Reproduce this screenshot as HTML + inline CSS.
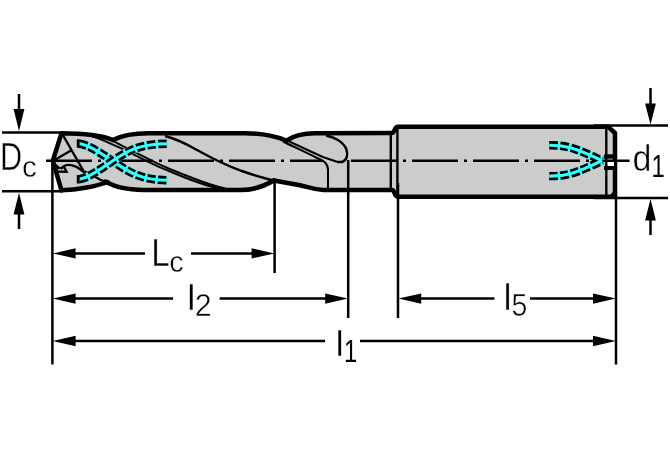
<!DOCTYPE html>
<html>
<head>
<meta charset="utf-8">
<title>Drill dimensions</title>
<style>
html,body{margin:0;padding:0;background:#fff;}
svg{display:block;filter:blur(0.45px);}
text{font-family:"Liberation Sans",sans-serif;fill:#000;}
.o{fill:none;stroke:#000;stroke-width:4.5;stroke-linejoin:round;stroke-linecap:round;}
.t{fill:none;stroke:#000;stroke-width:2.4;stroke-linecap:butt;}
.m{fill:none;stroke:#000;stroke-width:2;stroke-linecap:butt;}
.d{fill:none;stroke:#000;stroke-width:2.5;}
.cw{fill:none;stroke:#3ff;stroke-width:8.6;}
.ck{fill:none;stroke:#000;stroke-width:8.4;stroke-dasharray:8.5 2.5;}
.cc{fill:none;stroke:#3ff;stroke-width:3.1;}
.cb{fill:none;stroke:#000;stroke-width:2.8;}
</style>
</head>
<body>
<svg width="670" height="460" viewBox="0 0 670 460">
<rect width="670" height="460" fill="#fff"/>

<!-- body fill -->
<g id="body">
<path fill="#cccccc" stroke="none" d="M52.5,160.7 L61.5,133.3 C80,133.3 98,134 113,140 C122,135.5 135,133.3 148,133.3 L245,133.3 C262,133.3 275,136 286.3,140.6 C293,136 303,133.2 315,133.2 L393,133 L396,126.7 L608,126.7 L615,133 L615,192.8 L611.5,196.7 L396,196.7 L393,190 L323.5,190 C315,189.5 308,187 300,185.2 L273.8,180.5 C263,187 252,190 241,190 L150,190 C135,190 121,188.8 111,184.2 L109,184.5 C97,187.8 80,190 61.4,190.3 Z"/>

<!-- thick outlines -->
<path class="o" d="M61.5,190.3 L52.8,160.7 L61.5,133.3 C80,133.3 98,134 113,140"/>
<path class="o" d="M113,140 C122,135.5 135,133.3 148,133.3 L245,133.3 C262,133.3 275,136 286.3,140.6"/>
<path class="o" d="M286.3,140.6 C293,136 303,133.2 315,133.2 L392,133 C395,133 394,126.7 398,126.7 L608,126.7 L615,133 L615,192.8 L611.5,196.7 L398,196.7 C394,196.7 395,190 392,190 L323.5,190 C315,189.5 308,187 300,185.2 L273.8,180.5"/>
<path class="o" d="M273.8,180.5 C263,187 252,190 241,190 L150,190 C135,190 121,188.8 111,184.2 L105.5,181.6"/>
<path class="o" stroke-linecap="butt" d="M107.5,182 C97,186 78,190 61.5,190.3"/>
</g>

<!-- inner lines -->
<g id="inner">
<!-- tip -->
<path class="t" d="M62,133.5 L83.5,171"/>
<path class="t" d="M55.5,159.5 L71,150.5"/>
<path fill="#000" d="M52.5,160.7 L61.4,168.6 L58,169.2 L57.8,172.6 L55.6,172.6 Z"/>
<path class="t" stroke-width="2" d="M57.5,171.6 L66.5,171.8 L63.8,166.3 C66,164.3 71,164.4 75.2,166.4 C79,168 82,170.5 85.5,173.5 M63.8,166.3 L60.5,168.8"/>
<path class="t" stroke-width="2.8" d="M84.3,171.3 L92.7,175.5 L99.9,179.5 L106,182"/>
<!-- flute line 1 -->
<path class="t" d="M165,136 C180,140 188,145 197,150 C206,155 220,163 240,170.4 C252,174.5 262,178 273.8,180.5"/>
<!-- double margin lines first -->
<path class="m" d="M113,140.8 L121.9,145.7 L133.9,151.7 L145.8,157.7 L157.8,163.7 L169.7,169 L181.6,173.8 L190,177 C200,181 212,185.5 226,188.8"/>
<path class="m" d="M92,136.3 C98,137.8 104,140.6 110,143.4 L121.9,148.7 L133.9,154.7 L145.8,160.7 L157.8,166.3 L169.7,171.4 L181.6,176.2 L190,179.5 C200,183.3 210,186.5 219,188.5"/>
<!-- double margin lines second -->
<path class="m" d="M286.3,140.2 L299,146 L310.8,151.5 L322.8,157 L337,161.8"/>
<path class="m" d="M283,141.5 C292,146 305,152 316,157.5 C324,161 328,163 328,170 L328,189"/>
<!-- flute runout -->
<path class="t" d="M326,135.5 C334,137 343,141.5 346.3,149 C348.3,155 347,160.5 342,162 L337,162"/>
<!-- neck/shank lines -->
<path class="t" d="M390.8,133 L390.8,190"/>
<path class="t" d="M397.4,127 L397.4,196"/>
<path class="t" d="M606.3,126 L606.3,197"/>
<!-- slot -->
<rect x="604" y="154.3" width="12" height="4.4" fill="#000"/>
<rect x="604" y="166" width="12" height="4" fill="#000"/>
<rect x="607.8" y="162" width="6.2" height="4" fill="#fff"/>
</g>

<!-- centre line -->
<g id="centre">
<path class="t" stroke-dasharray="46 6 3 6" d="M46,160.7 L322,160.7 M351,160.7 L629.6,160.7"/>
</g>

<!-- coolant channels -->
<g id="coolant">
<path class="cw" d="M78.9,143.5 C88,145 97,150.5 112.5,161 C128,171.5 140,180.2 167.8,180.2"/><path class="ck" d="M78.9,143.5 C88,145 97,150.5 112.5,161 C128,171.5 140,180.2 167.8,180.2"/><path class="cc" d="M78.9,143.5 C88,145 97,150.5 112.5,161 C128,171.5 140,180.2 167.8,180.2"/>
<path class="cw" d="M78.9,179.3 C88,177.8 97,171.5 112.5,161 C128,150.5 140,143.7 167.8,143.7"/><path class="ck" d="M78.9,179.3 C88,177.8 97,171.5 112.5,161 C128,150.5 140,143.7 167.8,143.7"/><path class="cc" d="M78.9,179.3 C88,177.8 97,171.5 112.5,161 C128,150.5 140,143.7 167.8,143.7"/>
<path class="cb" d="M78.2,139.3 L78.2,147.7 M78.2,175.1 L78.2,183.5"/>
<path class="cw" d="M549.2,145.3 C565,145 575,147.5 602,160.7"/><path class="cw" d="M549.2,176.1 C565,176.4 575,173.9 602,160.7"/>
<path class="ck" d="M549.2,145.3 C565,145 575,147.5 602,160.7"/><path class="ck" d="M549.2,176.1 C565,176.4 575,173.9 602,160.7"/>
<path class="cc" d="M549.2,145.3 C565,145 575,147.5 602,160.7"/><path class="cc" d="M549.2,176.1 C565,176.4 575,173.9 602,160.7"/>
</g>

<!-- dimension lines -->
<g id="dims">
<!-- extension lines -->
<path class="d" d="M2,132.5 L62,132.5 M2,191.3 L62,191.3 M52.4,160 L52.4,364.5 M274.6,179 L274.6,273 M348.2,160 L348.2,318 M398,183 L398,318 M616,192 L616,364.5 M594,125.6 L668,125.6 M594,198 L668,198"/>
<!-- Dc arrows -->
<path class="d" d="M19,94 L19,112 M19,212 L19,229"/>
<path d="M19,131 L13.6,109 L24.4,109 Z M19,192.7 L13.6,214.5 L24.4,214.5 Z"/>
<!-- d1 arrows -->
<path class="d" d="M650.5,88 L650.5,106 M650.5,218 L650.5,235"/>
<path d="M650.5,124.5 L645.1,103.5 L655.9,103.5 Z M650.5,199 L645.1,220.5 L655.9,220.5 Z"/>
<!-- Lc -->
<path class="d" d="M74,253.4 L145,253.4 M191,253.4 L253,253.4"/>
<path d="M52.8,253.4 L75.6,248.2 L75.6,258.6 Z M274.4,253.4 L251.6,248.2 L251.6,258.6 Z"/>
<!-- l2 -->
<path class="d" d="M74,298.6 L173,298.6 M219.6,298.6 L327,298.6"/>
<path d="M52.8,298.6 L75.6,293.4 L75.6,303.8 Z M348,298.6 L325.2,293.4 L325.2,303.8 Z"/>
<!-- l5 -->
<path class="d" d="M420,298.6 L494.4,298.6 M530,298.6 L595,298.6"/>
<path d="M398.4,298.6 L421.2,293.4 L421.2,303.8 Z M615.8,298.6 L593,293.4 L593,303.8 Z"/>
<!-- l1 -->
<path class="d" d="M74,341 L325,341 M360,341 L595,341"/>
<path d="M52.8,341 L75.6,335.8 L75.6,346.2 Z M615.8,341 L593,335.8 L593,346.2 Z"/>
</g>

<!-- labels -->
<g id="labels" stroke="#fff" stroke-width="0.5" opacity="0.999">
<text transform="translate(-0.12,169.60) scale(0.789,1)" font-size="38.95">D</text>
<text transform="translate(22.05,176.70) scale(1.010,1)" font-size="29.56">c</text>
<text transform="translate(151.15,265.80) scale(0.871,1)" font-size="38.52">L</text>
<text transform="translate(169.18,271.50) scale(0.955,1)" font-size="30.29">c</text>
<text transform="translate(187.01,310.00) scale(1.073,1)" font-size="36.00">l</text>
<text transform="translate(194.78,316.10) scale(0.954,1)" font-size="31.95">2</text>
<text transform="translate(503.46,310.00) scale(1.010,1)" font-size="36.00">l</text>
<text transform="translate(511.46,315.98) scale(0.884,1)" font-size="32.23">5</text>
<text transform="translate(335.49,355.70) scale(1.050,1)" font-size="35.72">l</text>
<text transform="translate(343.98,361.70) scale(0.747,1)" font-size="31.98" stroke="none">1</text>
<text transform="translate(632.47,170.64) scale(0.943,1)" font-size="36.05">d</text>
<text transform="translate(651.48,177.00) scale(0.747,1)" font-size="31.98" stroke="none">1</text>
</g>
</svg>
</body>
</html>
